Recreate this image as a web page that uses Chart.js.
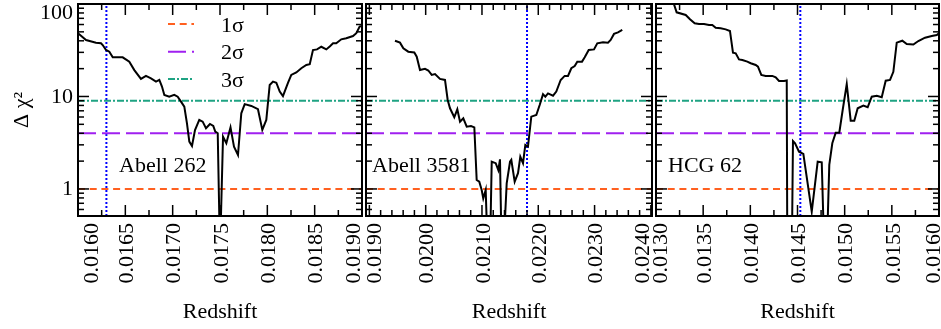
<!DOCTYPE html>
<html><head><meta charset="utf-8">
<script src="https://cdn.jsdelivr.net/npm/chart.js@4.4.0/dist/chart.umd.min.js"></script>
<style>
html,body{margin:0;padding:0;background:#fff;}
#wrap{position:relative;width:941px;height:329px;background:#fff;}
canvas{position:absolute;left:0;top:0;}
</style></head><body>
<div id="wrap">
<canvas id="c1" width="941" height="329"></canvas>
<canvas id="c2" width="941" height="329"></canvas>
<canvas id="c3" width="941" height="329"></canvas>
</div>
<script>
// ---------------- data ----------------
const abell262Z = [0.016000,0.016085,0.016190,0.016243,0.016261,0.016296,0.016331,0.016367,0.016472,0.016542,
  0.016595,0.016665,0.016718,0.016771,0.016824,0.016859,0.016887,0.016912,0.016964,0.017017,
  0.017053,0.017088,0.017123,0.017151,0.017176,0.017204,0.017236,0.017281,0.017317,0.017352,
  0.017394,0.017429,0.017450,0.017476,0.017500,0.017532,0.017567,0.017611,0.017648,0.017690,
  0.017725,0.017761,0.017831,0.017901,0.017947,0.017989,0.018025,0.018060,0.018095,0.018131,
  0.018165,0.018218,0.018253,0.018306,0.018359,0.018412,0.018448,0.018482,0.018525,0.018570,
  0.018623,0.018662,0.018694,0.018728,0.018781,0.018834,0.018905,0.018940,0.018975,0.019000];
const abell262Chi = [48.2,40.8,38.2,37.6,36.0,31.8,30.5,26.5,26.5,23.8,
  19.3,15.5,16.7,15.7,14.5,15.1,12.8,10.4,9.95,10.4,
  9.95,8.79,7.76,5.13,3.25,2.92,4.34,5.57,5.34,4.53,
  5.04,4.80,4.17,4.00,0.2,3.67,3.12,4.64,2.87,2.33,
  6.58,8.26,7.90,7.29,4.35,5.57,13.3,14.5,14.1,11.3,
  10.1,14.0,17.1,18.2,20.2,21.9,22.3,31.8,32.3,34.5,
  32.3,35.0,37.6,37.6,41.5,42.6,45.0,48.3,57.0,57.8];

const abell3581Z = [0.019455,0.019544,0.019603,0.019691,0.019798,0.019841,0.019899,0.019988,0.020047,0.020107,
  0.020166,0.020254,0.020343,0.020391,0.020432,0.020508,0.020562,0.020610,0.020668,0.020729,
  0.020805,0.020864,0.020906,0.020952,0.020995,0.021023,0.021066,0.021102,0.021142,0.021173,
  0.021244,0.021290,0.021320,0.021350,0.021379,0.021439,0.021498,0.021521,0.021581,0.021640,
  0.021681,0.021729,0.021770,0.021817,0.021876,0.021965,0.022025,0.022084,0.022125,0.022173,
  0.022262,0.022320,0.022398,0.022469,0.022528,0.022587,0.022647,0.022693,0.022777,0.022825,
  0.022896,0.022990,0.023048,0.023150,0.023238,0.023286,0.023345,0.023416,0.023492];
const abell3581Chi = [40.1,38.2,33.2,30.5,29.9,26.9,19.3,19.9,19.1,17.1,
  17.5,15.5,15.1,9.17,7.45,5.96,7.27,5.34,5.80,4.71,
  4.80,4.64,1.25,1.20,0.975,0.79,0.975,0.2,0.2,1.97,
  1.90,1.60,2.09,0.2,0.2,1.15,1.97,2.06,1.20,1.48,
  2.23,1.90,2.99,2.87,6.05,6.31,8.09,10.6,9.95,10.8,
  10.2,11.3,15.1,16.7,16.7,20.2,21.3,23.8,23.8,26.5,
  31.8,32.3,37.6,38.6,38.2,40.8,47.5,49.3,52.4];

const hcg62Z = [0.013170,0.013219,0.013315,0.013360,0.013410,0.013456,0.013509,0.013562,0.013597,0.013633,
  0.013686,0.013739,0.013784,0.013816,0.013845,0.013880,0.013915,0.013968,0.014004,0.014057,
  0.014081,0.014116,0.014163,0.014233,0.014269,0.014304,0.014357,0.014386,0.014392,0.014440,
  0.014452,0.014474,0.014516,0.014562,0.014651,0.014714,0.014757,0.014784,0.014810,0.014837,
  0.014869,0.014905,0.014943,0.014979,0.015022,0.015064,0.015102,0.015138,0.015198,0.015244,
  0.015287,0.015340,0.015393,0.015435,0.015481,0.015516,0.015552,0.015611,0.015658,0.015728,
  0.015781,0.015852,0.015923,0.015976,0.016010];
const hcg62Chi = [115,81.3,76.1,68.4,61.8,60.8,60.8,59.3,59.3,55.4,
  54.6,53.2,51.1,29.8,29.3,25.2,24.8,23.8,22.9,21.9,
  21.0,17.1,16.7,16.7,16.1,14.7,14.7,14.9,0.2,0.2,
  3.30,3.12,2.53,2.39,0.568,1.97,1.94,0.2,0.2,1.82,
  3.12,4.06,4.06,7.14,13.6,5.47,5.47,7.45,7.96,7.64,
  9.95,10.2,9.8,14.8,15.1,18.5,38.2,40.1,36.9,36.4,
  39.8,43.2,45.1,46.2,49.3];

const clusterNames = ['Abell 262', 'Abell 3581', 'HCG 62'];
const clusterRedshifts = [0.0163, 0.0218, 0.01453];
const sigmaLevels = [1, 4, 9];
const sigmaLabels = ['1\u03c3', '2\u03c3', '3\u03c3'];
const ticks262 = ['0.0160','0.0165','0.0170','0.0175','0.0180','0.0185','0.0190'];
const ticks3581 = ['0.0190','0.0200','0.0210','0.0220','0.0230','0.0240'];
const ticksHcg = ['0.0130','0.0135','0.0140','0.0145','0.0150','0.0155','0.0160'];
const yTickLabels = ['1', '10', '100'];

// ---------------- styles ----------------
const Y_MIN = 0.51, Y_MAX = 100;
const FONT = '"Liberation Serif", "Times New Roman", serif';
const SIGMA_STYLE = [
  {color: '#ff6020', dash: [7, 4.7]},
  {color: '#a020f0', dash: [18, 6]},
  {color: '#1fa383', dash: [7, 2, 2, 2]}
];

const deco = {
  id: 'deco',
  afterDraw(chart, args, o) {
    const ctx = chart.ctx, ca = chart.chartArea, xs = chart.scales.x, ys = chart.scales.y;
    ctx.save();
    ctx.setLineDash([]);
    ctx.strokeStyle = '#000';
    ctx.lineWidth = 1.5;
    const seg = (x1, y1, x2, y2) => { ctx.beginPath(); ctx.moveTo(x1, y1); ctx.lineTo(x2, y2); ctx.stroke(); };
    // x ticks (inward, top and bottom)
    const kMin = Math.ceil(xs.min / o.xMinor - 1e-6), kMax = Math.floor(xs.max / o.xMinor + 1e-6);
    for (let k = kMin; k <= kMax; k++) {
      const v = k * o.xMinor;
      const r = v / o.xMajor;
      const major = Math.abs(r - Math.round(r)) < 1e-6;
      const len = major ? 11 : 6;
      const px = xs.getPixelForValue(v);
      seg(px, ca.bottom, px, ca.bottom - len);
      seg(px, ca.top, px, ca.top + len);
    }
    // y ticks (inward, left and right)
    for (let d = -1; d <= 2; d++) for (let m = 1; m <= 9; m++) {
      const v = m * Math.pow(10, d);
      if (v < ys.min * 0.999 || v > ys.max * 1.001) continue;
      const len = m === 1 ? 11 : 6;
      const py = ys.getPixelForValue(v);
      seg(ca.left, py, ca.left + len, py);
      seg(ca.right, py, ca.right - len, py);
    }
    // frame
    ctx.lineWidth = 2;
    ctx.strokeRect(ca.left, ca.top, ca.right - ca.left, ca.bottom - ca.top);
    // x tick labels
    ctx.fillStyle = '#000';
    ctx.font = '22px ' + FONT;
    o.xLabels.forEach((lab, i) => {
      let px = xs.getPixelForValue(parseFloat(lab)) + 2;
      if (i === 0) px = Math.max(px, ca.left + o.firstPad);
      if (i === o.xLabels.length - 1) px = Math.min(px, ca.right - o.lastPad);
      ctx.save();
      ctx.translate(px, ca.bottom + 7);
      ctx.rotate(-Math.PI / 2);
      ctx.textAlign = 'right';
      ctx.textBaseline = 'middle';
      ctx.fillText(lab, 0, 0);
      ctx.restore();
    });
    // x title
    ctx.textAlign = 'center';
    ctx.textBaseline = 'alphabetic';
    ctx.fillText('Redshift', (ca.left + ca.right) / 2, 318);
    // cluster name
    ctx.textAlign = 'left';
    ctx.fillText(o.name, ca.left + o.nameDx, 172);
    if (o.showY) {
      // y tick labels
      ctx.textAlign = 'right';
      ctx.textBaseline = 'middle';
      yTickLabels.forEach(lab => {
        const py = Math.max(ys.getPixelForValue(parseFloat(lab)) + 0.5, ca.top + 9.5);
        ctx.fillText(lab, ca.left - 5, py);
      });
      // y title
      ctx.save();
      ctx.translate(22, 110);
      ctx.rotate(-Math.PI / 2);
      ctx.textAlign = 'center';
      ctx.fillText('\u0394 \u03c7\u00b2', 0, 0);
      ctx.restore();
      // legend
      const ly = [24, 51.7, 79], tb = [32, 59, 87];
      sigmaLabels.forEach((lab, i) => {
        const ds = chart.data.datasets[i + 1];
        ctx.strokeStyle = ds.borderColor;
        ctx.lineWidth = ds.borderWidth;
        ctx.setLineDash(ds.borderDash);
        seg(168, ly[i], 194, ly[i]);
        ctx.setLineDash([]);
        ctx.textAlign = 'left';
        ctx.textBaseline = 'alphabetic';
        ctx.fillStyle = '#000';
        ctx.fillText(lab, 221, tb[i]);
      });
    }
    ctx.restore();
  }
};

function makePanel(id, zArr, chiArr, zSys, xMin, xMax, left, right, deco_opts) {
  const curve = zArr.map((z, i) => ({x: z, y: chiArr[i]}));
  const datasets = [{data: curve, borderColor: '#000', borderWidth: 2, pointRadius: 0, tension: 0}];
  sigmaLevels.forEach((lev, i) => {
    datasets.push({data: [{x: xMin, y: lev}, {x: xMax, y: lev}], borderColor: SIGMA_STYLE[i].color,
      borderDash: SIGMA_STYLE[i].dash, borderWidth: 2, pointRadius: 0});
  });
  datasets.push({data: [{x: zSys, y: Y_MIN}, {x: zSys, y: Y_MAX}], borderColor: '#0000ff',
    borderDash: [2, 2], borderWidth: 2, pointRadius: 0});
  return new Chart(document.getElementById(id), {
    type: 'line',
    data: {datasets},
    options: {
      responsive: false, animation: false, devicePixelRatio: 1, events: [],
      layout: {padding: {left: left, right: 941 - right, top: 4, bottom: 113}},
      scales: {
        x: {type: 'linear', min: xMin, max: xMax, display: false},
        y: {type: 'logarithmic', min: Y_MIN, max: Y_MAX, display: false}
      },
      plugins: {legend: {display: false}, tooltip: {enabled: false}, deco: deco_opts}
    },
    plugins: [deco]
  });
}

makePanel('c1', abell262Z, abell262Chi, clusterRedshifts[0], 0.0160, 0.0190, 78, 362,
  {xMinor: 0.00025, xMajor: 0.0005, xLabels: ticks262, firstPad: 14, lastPad: 8, name: clusterNames[0], nameDx: 41, showY: true});
makePanel('c2', abell3581Z, abell3581Chi, clusterRedshifts[1], 0.01894, 0.02402, 366, 652,
  {xMinor: 0.0002, xMajor: 0.001, xLabels: ticks3581, firstPad: 9.5, lastPad: 9, name: clusterNames[1], nameDx: 6, showY: false});
makePanel('c3', hcg62Z, hcg62Chi, clusterRedshifts[2], 0.0130, 0.0160, 656, 939,
  {xMinor: 0.00025, xMajor: 0.0005, xLabels: ticksHcg, firstPad: 5.5, lastPad: 5, name: clusterNames[2], nameDx: 12, showY: false});
</script>
</body></html>
